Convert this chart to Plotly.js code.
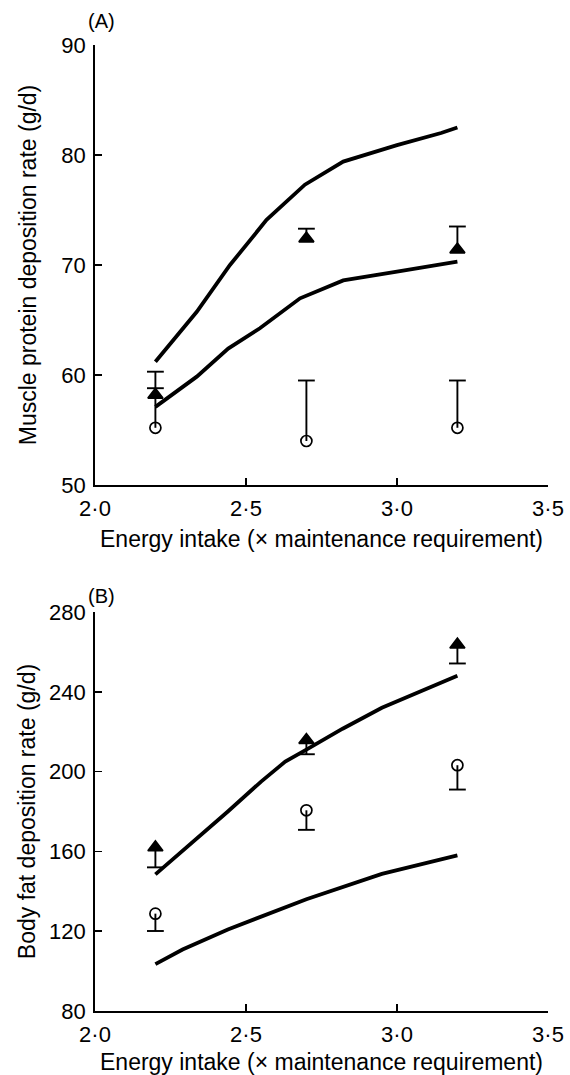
<!DOCTYPE html>
<html><head><meta charset="utf-8">
<script src="https://cdn.plot.ly/plotly-3.0.1.min.js"></script>
<style>html,body{margin:0;padding:0;background:#fff}</style>
</head><body><div id="chart" style="width:570px;height:1075px"></div>
<script>
// ---- shared ----
const intakeLevels = [2.2, 2.7, 3.2];
const xTickVals = [2.0, 2.5, 3.0, 3.5];
const xTickText = ['2·0', '2·5', '3·0', '3·5'];
const xTitle = 'Energy intake (× maintenance requirement)';

// ---- Panel A: muscle protein deposition (g/d) ----
const proteinUpperX = [2.2, 2.337, 2.447, 2.568, 2.695, 2.822, 3.0, 3.146, 3.2];
const proteinUpperY = [61.2, 65.75, 70.0, 74.1, 77.3, 79.4, 80.9, 82.0, 82.5];
const proteinLowerX = [2.2, 2.337, 2.441, 2.546, 2.679, 2.822, 3.0, 3.2];
const proteinLowerY = [57.1, 59.85, 62.4, 64.25, 66.97, 68.6, 69.4, 70.3];
const proteinTriangle = [58.2, 72.4, 71.4];
const proteinTriangleErr = [2.1, 0.9, 2.1];
const proteinCircle = [55.2, 54.0, 55.2];
const proteinCircleErr = [3.6, 5.5, 4.3];

// ---- Panel B: body fat deposition (g/d) ----
const fatUpperX = [2.2, 2.32, 2.44, 2.55, 2.63, 2.7, 2.82, 2.95, 3.2];
const fatUpperY = [148.5, 164, 180, 195, 205, 211, 221.5, 232, 248];
const fatLowerX = [2.2, 2.29, 2.44, 2.7, 2.95, 3.2];
const fatLowerY = [103.5, 110.8, 120.9, 136, 148.7, 158];
const fatTriangle = [162, 215.8, 263.6];
const fatTriangleErr = [10, 7.1, 9.4];
const fatCircle = [128.8, 180.6, 203.2];
const fatCircleErr = [8.7, 9.8, 12.2];

const FONT = 'Liberation Sans, Arial, Helvetica, sans-serif';
const black = '#000';

function curve(x, y, xa, ya) {
  return {x: x, y: y, xaxis: xa, yaxis: ya, mode: 'lines', type: 'scatter',
    line: {color: black, width: 3.8}, hoverinfo: 'skip', showlegend: false};
}
function points(vals, errs, up, symbol, size, fill, xa, ya) {
  const zeros = errs.map(() => 0);
  return {x: intakeLevels, y: vals, xaxis: xa, yaxis: ya, type: 'scatter', mode: 'markers',
    marker: {symbol: symbol, size: size, color: fill, line: {color: black, width: 1.7}},
    error_y: {type: 'data', symmetric: false, array: up ? errs : zeros,
      arrayminus: up ? zeros : errs, width: 0, thickness: 1.9, color: black},
    showlegend: false, cliponaxis: false};
}
function caps(vals, errs, up, xa, ya) {
  return {x: intakeLevels, y: vals.map((v, i) => up ? v + errs[i] : v - errs[i]),
    xaxis: xa, yaxis: ya, type: 'scatter', mode: 'markers',
    marker: {symbol: 'line-ew-open', size: 12, color: black, line: {color: black, width: 1.9}},
    showlegend: false, hoverinfo: 'skip', cliponaxis: false};
}

const data = [
  curve(proteinUpperX, proteinUpperY, 'x', 'y'),
  curve(proteinLowerX, proteinLowerY, 'x', 'y'),
  points(proteinCircle, proteinCircleErr, true, 'circle-open', 11, black, 'x', 'y'),
  caps(proteinCircle, proteinCircleErr, true, 'x', 'y'),
  points(proteinTriangle, proteinTriangleErr, true, 'triangle-up', 13, black, 'x', 'y'),
  caps(proteinTriangle, proteinTriangleErr, true, 'x', 'y'),
  curve(fatUpperX, fatUpperY, 'x2', 'y2'),
  curve(fatLowerX, fatLowerY, 'x2', 'y2'),
  points(fatCircle, fatCircleErr, false, 'circle-open', 11, black, 'x2', 'y2'),
  caps(fatCircle, fatCircleErr, false, 'x2', 'y2'),
  points(fatTriangle, fatTriangleErr, false, 'triangle-up', 13, black, 'x2', 'y2'),
  caps(fatTriangle, fatTriangleErr, false, 'x2', 'y2')
];

const W = 570, H = 1075;
const xDom = [95 / W, 548 / W];
function xAxis(anchor) {
  return {domain: xDom, anchor: anchor, range: [2.0, 3.5], tickvals: xTickVals, ticktext: xTickText,
    showline: true, linecolor: black, linewidth: 1.8, ticks: 'inside', ticklen: 7, tickwidth: 1.8,
    tickcolor: black, showgrid: false, zeroline: false, ticklabelstandoff: 3,
    tickfont: {family: FONT, size: 22, color: black},
    title: {text: xTitle, font: {family: FONT, size: 23, color: black}, standoff: 11}};
}
function yAxis(anchor, dom, range, dtick, title, standoff) {
  return {domain: dom, anchor: anchor, range: range, dtick: dtick, tick0: range[0],
    showline: true, linecolor: black, linewidth: 1.8, ticks: 'inside', ticklen: 7, tickwidth: 1.8,
    tickcolor: black, showgrid: false, zeroline: false, ticklabelstandoff: 3,
    tickfont: {family: FONT, size: 22, color: black},
    title: {text: title, font: {family: FONT, size: 23, color: black}, standoff: standoff}};
}

const layout = {
  width: W, height: H, paper_bgcolor: '#fff', plot_bgcolor: '#fff',
  margin: {l: 0, r: 0, t: 0, b: 0}, showlegend: false,
  font: {family: FONT, color: black},
  xaxis: xAxis('y'),
  yaxis: yAxis('x', [1 - 485 / H, 1 - 45 / H], [50, 90], 10, 'Muscle protein deposition rate (g/d)', 18),
  xaxis2: xAxis('y2'),
  yaxis2: yAxis('x2', [1 - 1011 / H, 1 - 612 / H], [80, 280], 40, 'Body fat deposition rate (g/d)', 7),
  annotations: [
    {text: '(A)', xref: 'paper', yref: 'paper', x: 101 / W, y: 1 - 21 / H, showarrow: false,
      xanchor: 'center', yanchor: 'middle', font: {family: FONT, size: 20, color: black}},
    {text: '(B)', xref: 'paper', yref: 'paper', x: 101 / W, y: 1 - 596 / H, showarrow: false,
      xanchor: 'center', yanchor: 'middle', font: {family: FONT, size: 20, color: black}}
  ]
};

Plotly.newPlot('chart', data, layout, {displayModeBar: false, staticPlot: true});
</script>
</body></html>
